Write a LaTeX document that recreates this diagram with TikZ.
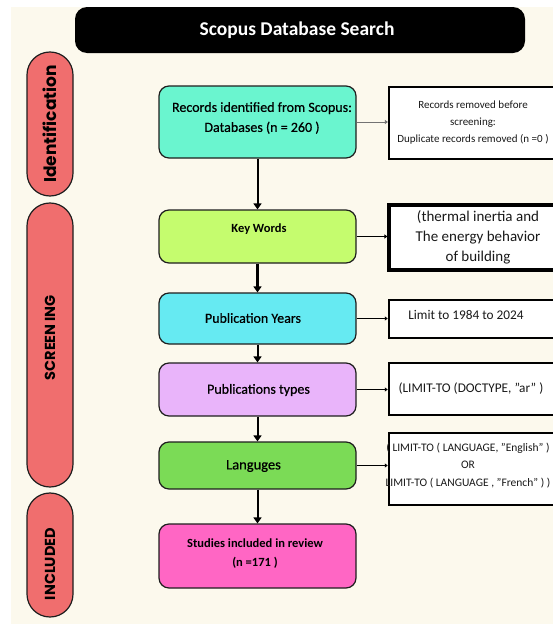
\documentclass[tikz,border=0pt]{standalone}
\usepackage{fontspec}
\setmainfont{Carlito}
\newfontfamily\medfont{Carlito}[FakeBold=0.5]
\newfontfamily\pillfont{Poppins}
\usetikzlibrary{arrows.meta}
\definecolor{cream}{RGB}{252,249,237}
\definecolor{pillred}{RGB}{240,110,110}
\definecolor{cmint}{RGB}{106,245,207}
\definecolor{clime}{RGB}{197,252,110}
\definecolor{ccyan}{RGB}{102,234,242}
\definecolor{clav}{RGB}{233,180,250}
\definecolor{cgreen}{RGB}{123,219,86}
\definecolor{cpink}{RGB}{255,102,196}
\definecolor{edge}{RGB}{30,30,30}
\tikzset{
  mainbox/.style={draw=edge, line width=1.2pt, rounded corners=10pt, minimum width=197pt, inner sep=0pt},
  sidebox/.style={draw=black, fill=white, line width=2.2pt, minimum width=167pt, inner sep=0pt},
  pillbox/.style={draw=edge, fill=pillred, line width=1.2pt, rounded corners=22.9pt, minimum width=46pt, inner sep=0pt},
  pilltext/.style={rotate=90, text=black, inner sep=0pt},
  maintext/.style={align=center, inner sep=0pt, text=black},
  sidetext/.style={align=center, inner sep=0pt, text=black!90},
  varrow/.style={line width=2pt, -{Triangle[width=8pt,length=6pt]}},
  harrow/.style={line width=0.8pt, -{Triangle[width=4pt,length=3pt]}},
}
\begin{document}
\begin{tikzpicture}[x=1pt,y=-1pt]
\useasboundingbox (0,0) rectangle (553,624);
\clip (0,0) rectangle (553,624);
\fill[cream] (11,7) rectangle (553,624);

% title
\node[fill=black, rounded corners=12pt, minimum width=450pt, minimum height=46pt, inner sep=0pt] (title) at (300,30) {};
\node[text=white, font=\fontsize{19.5}{22}\selectfont\bfseries, inner sep=0pt] (titleT) at (297,30) {Scopus Database Search};

% phase pills
\node[pillbox, minimum height=144pt] (pid) at (50,124) {};
\node[pilltext, font=\pillfont\bfseries\fontsize{17}{19}\selectfont] (pidT) at (50,124) {Identification};
\node[pillbox, minimum height=284pt] (psc) at (50,345) {};
\node[pilltext, font=\pillfont\bfseries\fontsize{14.5}{16}\selectfont] (pscT) at (50,338) {SCREEN\,ING};
\node[pillbox, minimum height=124pt] (pin) at (50,555) {};
\node[pilltext, font=\pillfont\bfseries\fontsize{14.5}{16}\selectfont] (pinT) at (50,564) {INCLUDED};

% main boxes
\node[mainbox, fill=cmint, minimum height=72pt] (rec) at (257.5,122) {};
\node[maintext, font=\medfont\fontsize{14}{20}\selectfont] (recT) at (262,118) {Records identified from Scopus:\\Databases (n = 260 )};
\node[mainbox, fill=clime, minimum height=53pt] (kw) at (257.5,236.5) {};
\node[maintext, font=\fontsize{12.5}{15}\selectfont\bfseries] (kwT) at (259,229) {Key Words};
\node[mainbox, fill=ccyan, minimum height=51pt] (py) at (257.5,318.5) {};
\node[maintext, font=\medfont\fontsize{14}{16}\selectfont] (pyT) at (253,318) {Publication Years};
\node[mainbox, fill=clav, minimum height=53pt] (pt) at (257.5,389.5) {};
\node[maintext, font=\medfont\fontsize{14}{16}\selectfont] (ptT) at (258.5,390) {Publications types};
\node[mainbox, fill=cgreen, minimum height=47pt] (lang) at (257.5,465.5) {};
\node[maintext, font=\medfont\fontsize{14.5}{16}\selectfont] (langT) at (253.5,466) {Languges};
\node[mainbox, fill=cpink, minimum height=64pt] (stud) at (257.5,556) {};
\node[maintext, font=\fontsize{12.5}{19}\selectfont\bfseries] (studT) at (255,553.5) {Studies included in review\\(n =171 )};

% side boxes
\node[sidebox, minimum height=72pt] (s1) at (472.5,123) {};
\node[sidetext, font=\fontsize{11}{17}\selectfont] (s1T) at (473,123) {Records removed before\\screening:\\Duplicate records removed (n =0 )};
\node[sidebox, line width=3.2pt, minimum height=65pt] (s2) at (472.5,237.5) {};
\node[sidetext, font=\fontsize{15}{20}\selectfont] (s2T) at (478,237) {(thermal inertia and\\The energy behavior\\of building};
\node[sidebox, line width=2.5pt, minimum height=38pt] (s3) at (472.5,319) {};
\node[sidetext, font=\fontsize{13.3}{15}\selectfont] (s3T) at (466,315) {Limit to 1984 to 2024};
\node[sidebox, line width=2.5pt, minimum height=52pt] (s4) at (472.5,389) {};
\node[sidetext, font=\fontsize{13.3}{15}\selectfont] (s4T) at (471,389) {(LIMIT-TO (DOCTYPE, "ar" )};
\node[sidebox, line width=2.5pt, minimum height=72pt] (s5) at (472.5,469) {};
\node[sidetext, font=\fontsize{11.5}{17.5}\selectfont] (s5T) at (468,465.5) {( LIMIT-TO ( LANGUAGE, "English" )\\OR\\LIMIT-TO ( LANGUAGE , "French" ) )};

% vertical connectors
\draw[varrow] (rec) -- (kw);
\draw[varrow, line width=3.5pt] (kw) -- (py);
\draw[varrow] (py) -- (pt);
\draw[varrow] (pt) -- (lang);
\draw[varrow] (lang) -- (stud);

% horizontal connectors
\draw[harrow, draw=black!55] (rec.east) -- (rec.east -| s1.west);
\draw[harrow] (kw.east) -- (kw.east -| s2.west);
\draw[harrow] (py.east) -- (py.east -| s3.west);
\draw[harrow] (pt.east) -- (pt.east -| s4.west);
\draw[harrow] (lang.east) -- (lang.east -| s5.west);
\end{tikzpicture}
\end{document}
